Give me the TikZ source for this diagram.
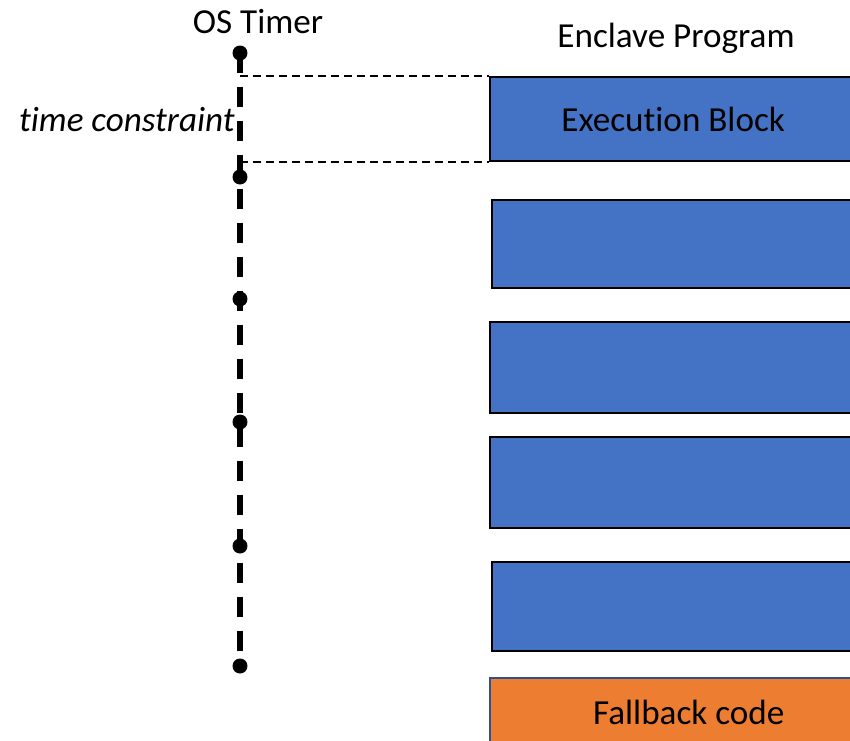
\documentclass[tikz,border=0pt]{standalone}
\usepackage{fontspec}
\setmainfont{Carlito}[Ligatures={NoCommon}]
\usetikzlibrary{positioning}
\definecolor{blockblue}{HTML}{4472C4}
\definecolor{fallorange}{HTML}{ED7D31}
\definecolor{fallborder}{HTML}{2F528F}

\tikzset{
  labeltext/.style={font=\fontsize{20}{24}\selectfont, inner sep=0pt},
  execblock/.style={labeltext, draw=black, line width=1.4pt, fill=blockblue,
    minimum width=7.32cm, anchor=north west},
  fallblock/.style={labeltext, draw=fallborder, line width=0.9pt, fill=fallorange,
    minimum width=7.96cm, minimum height=1.4cm, anchor=north west},
  timerdot/.style={circle, fill=black, minimum size=0.3cm, inner sep=0pt},
  timerline/.style={line width=2.9pt, dash pattern=on 0.4cm off 0.28cm},
  constraint/.style={line width=1.1pt, dash pattern=on 0.16cm off 0.1cm}
}

\begin{document}
\begin{tikzpicture}[x=0.02cm, y=-0.02cm]
  \useasboundingbox (0,0) rectangle (850,741);
  \clip (0,0) rectangle (850,741);

  % titles
  \node[labeltext] (ostimer) at (258,22) {OS Timer};
  \node[labeltext] (enclave) at (676,38) {Enclave Program};

  % OS timer ticks
  \foreach \y [count=\i] in {53,177,299,422,546,666}
    \coordinate (c\i) at (240,\y);
  \draw[timerline] (c1) -- (c6);
  \foreach \i in {1,...,6}
    \node[timerdot] (t\i) at (c\i) {};

  % enclave program blocks
  \node[execblock, minimum height=1.68cm] (exec) at (489,76) {Execution Block};
  \node[execblock, minimum height=1.76cm] (blk2) at (491,199) {};
  \node[execblock, minimum height=1.82cm] (blk3) at (489,321) {};
  \node[execblock, minimum height=1.82cm] (blk4) at (489,436) {};
  \node[execblock, minimum height=1.78cm] (blk5) at (491,561) {};
  \node[fallblock] (fallback) at (489,677) {Fallback code};

  % time constraint
  \draw[constraint] (exec.north west -| c1) -- (exec.north west);
  \draw[constraint] (exec.south west -| c1) -- (exec.south west);
  \node[labeltext, font=\fontsize{20}{24}\selectfont\itshape, anchor=east] (tc) at (235,120) {time constraint};
\end{tikzpicture}
\end{document}
